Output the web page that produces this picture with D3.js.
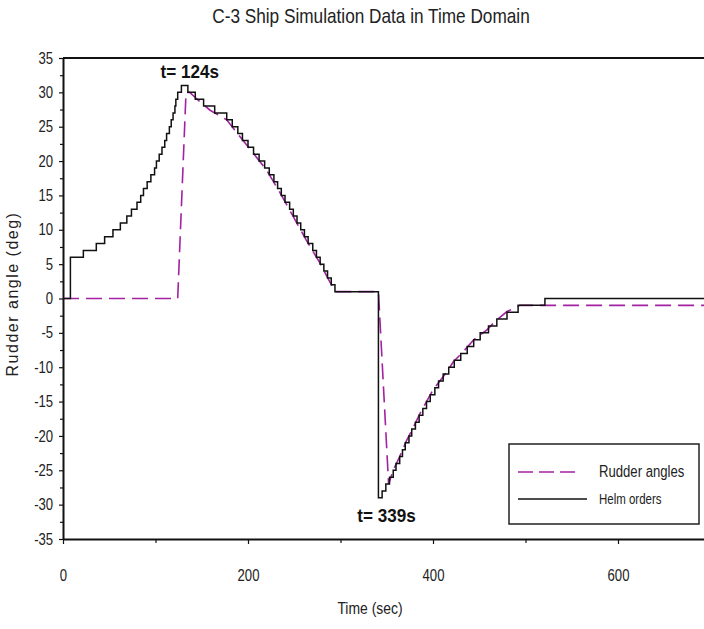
<!DOCTYPE html>
<html>
<head>
<meta charset="utf-8">
<script src="https://cdn.jsdelivr.net/npm/d3@7"></script>
<style>
  body { margin: 0; background: #fff; }
  svg { display: block; }
</style>
</head>
<body>
<div id="chart"></div>
<script>
// Data
// Helm orders: step series, value holds from each time until the next one
var helmTime = [0, 8, 22, 36, 45, 54, 62, 69, 74, 80, 84, 87, 91, 95, 99, 101, 104, 107, 110, 112, 115, 117, 119, 121, 122, 124, 128,
  135, 143, 152, 164, 177, 183, 189, 194, 200, 206, 212, 218, 223, 228, 232, 236, 240, 245, 249, 253, 257, 261, 265, 270, 274, 278, 282, 286, 290, 294,
  341, 345, 349, 353, 357, 360, 364, 367, 370, 374, 377, 381, 385, 389, 393, 397, 402, 406, 411, 417, 423, 430, 437, 444, 451, 460, 469, 480, 492, 521, 700];
var helmDeg = [0, 6, 7, 8, 9, 10, 11, 12, 13, 14, 15, 16, 17, 18, 19, 20, 21, 22, 23, 24, 25, 26, 27, 28, 29, 30, 31,
  30, 29, 28, 27, 26, 25, 24, 23, 22, 21, 20, 19, 18, 17, 16, 15, 14, 13, 12, 11, 10, 9, 8, 7, 6, 5, 4, 3, 2, 1,
  -29, -28, -27, -26, -25, -24, -23, -22, -21, -20, -19, -18, -17, -16, -15, -14, -13, -12, -11, -10, -9, -8, -7, -6, -5, -4, -3, -2, -1, 0, 0];

// Rudder angles: the actual rudder, lagging the helm
var rudderTime = [0, 124, 133, 137, 145, 159, 177, 191, 206, 220, 235, 249, 263, 278, 294, 341, 352, 357, 364, 371, 379, 386, 393, 400, 408, 415, 422, 433, 444, 458, 469, 480, 494, 700];
var rudderDeg = [0, 0, 30, 30, 29, 27.4, 26, 23.6, 21.1, 18.7, 15.3, 11.9, 8.5, 5.1, 1, 1, -27, -25, -23, -20.8, -18.7, -16.7, -15, -13.3, -11.9, -10.7, -9.2, -7.7, -6, -4.6, -3.1, -1.9, -1, -1];

var yMajor = [-35, -30, -25, -20, -15, -10, -5, 0, 5, 10, 15, 20, 25, 30, 35];
var yMinor = [-32.5, -27.5, -22.5, -17.5, -12.5, -7.5, -2.5, 2.5, 7.5, 12.5, 17.5, 22.5, 27.5, 32.5];
var xMajor = [0, 200, 400, 600];
var xMinor = [100, 300, 500, 700];

var notes = [
  { t: 124, label: "t= 124s", dx: 12, y: 78 },
  { t: 339, label: "t= 339s", dx: 10, y: 522 }
];

// Page setup
var width = 704;
var height = 629;
var sans = '"Liberation Sans", Arial, sans-serif';
// the original uses a narrow face; squeeze Liberation Sans sideways to get it
var squeeze = "scale(0.82,1)";
var purple = "#a222a2";

var svg = d3.select("#chart")
  .append("svg")
  .attr("width", width)
  .attr("height", height);

var x = d3.scaleLinear().domain([0, 700]).range([63, 710.5]);
var y = d3.scaleLinear().domain([-35, 35]).range([539, 58]);

// Title
svg.append("g")
  .attr("transform", "translate(371,23)")
  .append("text")
  .attr("transform", squeeze)
  .attr("text-anchor", "middle")
  .style("font-family", sans)
  .style("font-size", "21px")
  .attr("fill", "#222")
  .text("C-3 Ship Simulation Data in Time Domain");

// Top border line
svg.append("line")
  .attr("x1", x(0)).attr("x2", width)
  .attr("y1", y(35)).attr("y2", y(35))
  .attr("stroke", "#111").attr("stroke-width", 2);

// Y axis (major ticks with labels, minor ticks without)
var yAxis = svg.append("g")
  .attr("transform", "translate(" + x(0) + ",0)")
  .call(d3.axisLeft(y).tickValues(yMajor).tickSize(4).tickSizeOuter(0).tickFormat(function (d) { return String(d); }));
svg.append("g")
  .attr("transform", "translate(" + x(0) + ",0)")
  .call(d3.axisLeft(y).tickValues(yMinor).tickSize(3).tickSizeOuter(0).tickFormat(""))
  .select(".domain").remove();
yAxis.selectAll("text")
  .style("font-family", sans)
  .style("font-size", "16px")
  .attr("fill", "#222")
  .attr("x", -12)
  .attr("transform", squeeze);

// X axis
var xAxis = svg.append("g")
  .attr("transform", "translate(0," + y(-35) + ")")
  .call(d3.axisBottom(x).tickValues(xMajor).tickSize(5).tickSizeOuter(0));
svg.append("g")
  .attr("transform", "translate(0," + y(-35) + ")")
  .call(d3.axisBottom(x).tickValues(xMinor).tickSize(4).tickSizeOuter(0).tickFormat(""))
  .select(".domain").remove();
xAxis.selectAll("text")
  .style("font-family", sans)
  .style("font-size", "16px")
  .attr("fill", "#222")
  .attr("y", 31)
  .attr("transform", squeeze);

svg.selectAll(".domain").attr("stroke", "#111").attr("stroke-width", 2);
svg.selectAll(".tick line").attr("stroke", "#111").attr("stroke-width", 1.2);

// Axis titles
svg.append("g")
  .attr("transform", "translate(370,614)")
  .append("text")
  .attr("transform", squeeze)
  .attr("text-anchor", "middle")
  .style("font-family", sans)
  .style("font-size", "17px")
  .attr("fill", "#222")
  .text("Time (sec)");

svg.append("text")
  .attr("transform", "translate(18,294)rotate(-90)")
  .attr("text-anchor", "middle")
  .style("font-family", sans)
  .style("font-size", "16px")
  .style("letter-spacing", "1.5px")
  .attr("fill", "#222")
  .text("Rudder angle (deg)");

// Series
var rudderPts = rudderTime.map(function (t, i) { return [t, rudderDeg[i]]; });
var helmPts = helmTime.map(function (t, i) { return [t, helmDeg[i]]; });

svg.append("clipPath").attr("id", "plot-clip")
  .append("rect")
  .attr("x", x(0)).attr("y", y(35))
  .attr("width", width - x(0)).attr("height", y(-35) - y(35));

svg.append("path")
  .datum(rudderPts)
  .attr("clip-path", "url(#plot-clip)")
  .attr("fill", "none")
  .attr("stroke", purple)
  .attr("stroke-width", 1.6)
  .attr("stroke-dasharray", "16,7")
  .attr("d", d3.line().x(function (d) { return x(d[0]); }).y(function (d) { return y(d[1]); }));

svg.append("path")
  .datum(helmPts)
  .attr("clip-path", "url(#plot-clip)")
  .attr("fill", "none")
  .attr("stroke", "#111")
  .attr("stroke-width", 1.5)
  .attr("d", d3.line().curve(d3.curveStepAfter).x(function (d) { return x(d[0]); }).y(function (d) { return y(d[1]); }));

// Annotations
svg.selectAll(".note")
  .data(notes)
  .enter()
  .append("g")
  .attr("class", "note")
  .attr("transform", function (d) { return "translate(" + (x(d.t) + d.dx) + "," + d.y + ")"; })
  .append("text")
  .attr("transform", "scale(0.9,1)")
  .attr("text-anchor", "middle")
  .style("font-family", sans)
  .style("font-size", "19px")
  .style("font-weight", "bold")
  .attr("fill", "#111")
  .text(function (d) { return d.label; });

// Legend
var legend = svg.append("g").attr("class", "legend");
legend.append("rect")
  .attr("x", 509).attr("y", 444)
  .attr("width", 190).attr("height", 80)
  .attr("fill", "#fff")
  .attr("stroke", "#222")
  .attr("stroke-width", 1.5);

var legendItems = [
  { name: "Rudder angles", color: purple, dash: "15,6", size: "16px", y: 472, x2: 580 },
  { name: "Helm orders", color: "#111", dash: null, size: "14px", y: 499, x2: 587 }
];
legendItems.forEach(function (d) {
  legend.append("line")
    .attr("x1", 518).attr("x2", d.x2)
    .attr("y1", d.y).attr("y2", d.y)
    .attr("stroke", d.color)
    .attr("stroke-width", 1.6)
    .attr("stroke-dasharray", d.dash);
  legend.append("g")
    .attr("transform", "translate(599," + (d.y + 5) + ")")
    .append("text")
    .attr("transform", squeeze)
    .style("font-family", sans)
    .style("font-size", d.size)
    .attr("fill", "#222")
    .text(d.name);
});
</script>
</body>
</html>
